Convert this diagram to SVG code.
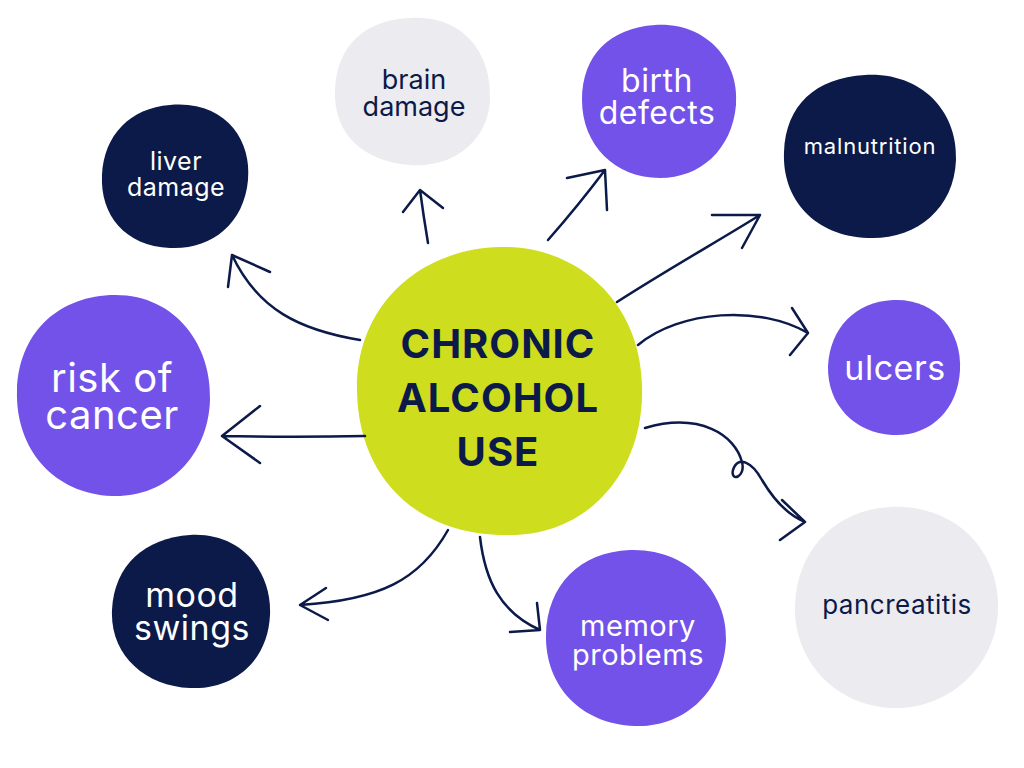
<svg xmlns="http://www.w3.org/2000/svg" width="1024" height="768" viewBox="0 0 1024 768">
<style>
.navy{fill:#0b1a48}.purple{fill:#7352ea}.gray{fill:#ecebf0}.lime{fill:#cedd1d}
text{font-family:Inter,"Noto Sans",sans-serif;text-anchor:middle}
.w{fill:#fff}.d{fill:#0b1a48}
#conn path{fill:none;stroke:#0b1a48;stroke-width:2.5;stroke-linecap:round;stroke-linejoin:round}
</style>
<rect width="1024" height="768" fill="#fff"/>
<g id="center"><path class="lime" d="M500,247 C575,245 640,300 642,385 C645,470 590,535 510,535 C420,537 358,480 357,390 C356,305 420,249 500,247Z"/>
<text class="d" font-size="40" font-weight="700" letter-spacing="1"><tspan x="498" y="358">CHRONIC</tspan><tspan x="498" y="412">ALCOHOL</tspan><tspan x="498" y="466">USE</tspan></text></g>
<g id="brain"><path class="gray" d="M410,18 C465,15 492,55 490,100 C488,140 455,168 410,165 C365,162 333,135 335,90 C337,45 365,20 410,18Z"/>
<text class="d" font-size="27"><tspan x="414" y="89">brain</tspan><tspan x="414" y="116">damage</tspan></text></g>
<g id="birth"><path class="purple" d="M655,25 C710,22 740,65 736,105 C732,150 700,178 660,178 C615,178 582,145 582,100 C582,55 610,28 655,25Z"/>
<text class="w" font-size="32" letter-spacing="0.5"><tspan x="657" y="92">birth</tspan><tspan x="657" y="124">defects</tspan></text></g>
<g id="liver"><path class="navy" d="M170,105 C225,100 252,140 248,180 C244,225 210,250 170,248 C125,246 100,215 102,175 C104,135 130,108 170,105Z"/>
<text class="w" font-size="25" letter-spacing="0.5"><tspan x="176" y="170">liver</tspan><tspan x="176" y="196">damage</tspan></text></g>
<g id="malnutrition"><path class="navy" d="M865,75 C925,72 958,115 956,160 C954,210 915,240 868,238 C815,236 782,200 784,152 C786,105 815,78 865,75Z"/>
<text class="w" font-size="22" letter-spacing="0.8" x="870" y="154">malnutrition</text></g>
<g id="cancer"><path class="purple" d="M110,295 C175,292 212,345 210,400 C208,458 165,498 112,496 C55,494 15,450 17,390 C19,335 55,298 110,295Z"/>
<text class="w" font-size="40" letter-spacing="0.5"><tspan x="112" y="392">risk of</tspan><tspan x="112" y="429">cancer</tspan></text></g>
<g id="ulcers"><path class="purple" d="M893,300 C935,298 962,330 960,370 C958,410 930,437 892,435 C855,433 827,405 828,366 C830,328 855,302 893,300Z"/>
<text class="w" font-size="34" letter-spacing="0.5" x="895" y="380">ulcers</text></g>
<g id="mood"><path class="navy" d="M190,535 C240,532 272,570 270,615 C268,660 235,690 190,688 C145,686 110,655 112,610 C114,565 145,538 190,535Z"/>
<text class="w" font-size="34" letter-spacing="0.5"><tspan x="192" y="607">mood</tspan><tspan x="192" y="640">swings</tspan></text></g>
<g id="memory"><path class="purple" d="M630,550 C690,548 728,595 726,640 C724,690 685,728 635,726 C580,724 545,685 546,635 C547,585 580,552 630,550Z"/>
<text class="w" font-size="29" letter-spacing="0.5"><tspan x="638" y="636">memory</tspan><tspan x="638" y="665">problems</tspan></text></g>
<g id="pancreatitis"><path class="gray" d="M890,507 C960,504 1000,555 998,610 C996,665 950,710 892,708 C835,706 793,660 795,605 C797,550 835,510 890,507Z"/>
<text class="d" font-size="26" letter-spacing="0.5" x="897" y="614">pancreatitis</text></g>
<g id="conn">
<path d="M360,340 C300,330 258,310 232,255 M228,287 L232,255 L270,272"/>
<path d="M428,243 C425,225 422,205 420,190 M403,212 L420,190 L443,208"/>
<path d="M548,240 C570,215 590,190 605,170 M567,178 L605,170 L607,210"/>
<path d="M617,302 C670,268 720,240 760,215 M712,215 L760,215 L742,248"/>
<path d="M638,345 C680,310 760,305 808,333 M792,308 L808,333 L790,355"/>
<path d="M365,436 C320,437 270,437 222,436 M260,406 L222,436 L260,463"/>
<path d="M645,428 C700,412 735,435 742,462 C746,478 730,482 733,470 C738,455 752,462 762,480 C775,502 788,515 805,522 M782,500 L805,522 L780,540"/>
<path d="M448,530 C420,580 380,600 300,605 M326,588 L300,605 L328,620"/>
<path d="M480,537 C485,580 500,612 540,630 M510,632 L540,630 L537,603"/>
</g>
</svg>
